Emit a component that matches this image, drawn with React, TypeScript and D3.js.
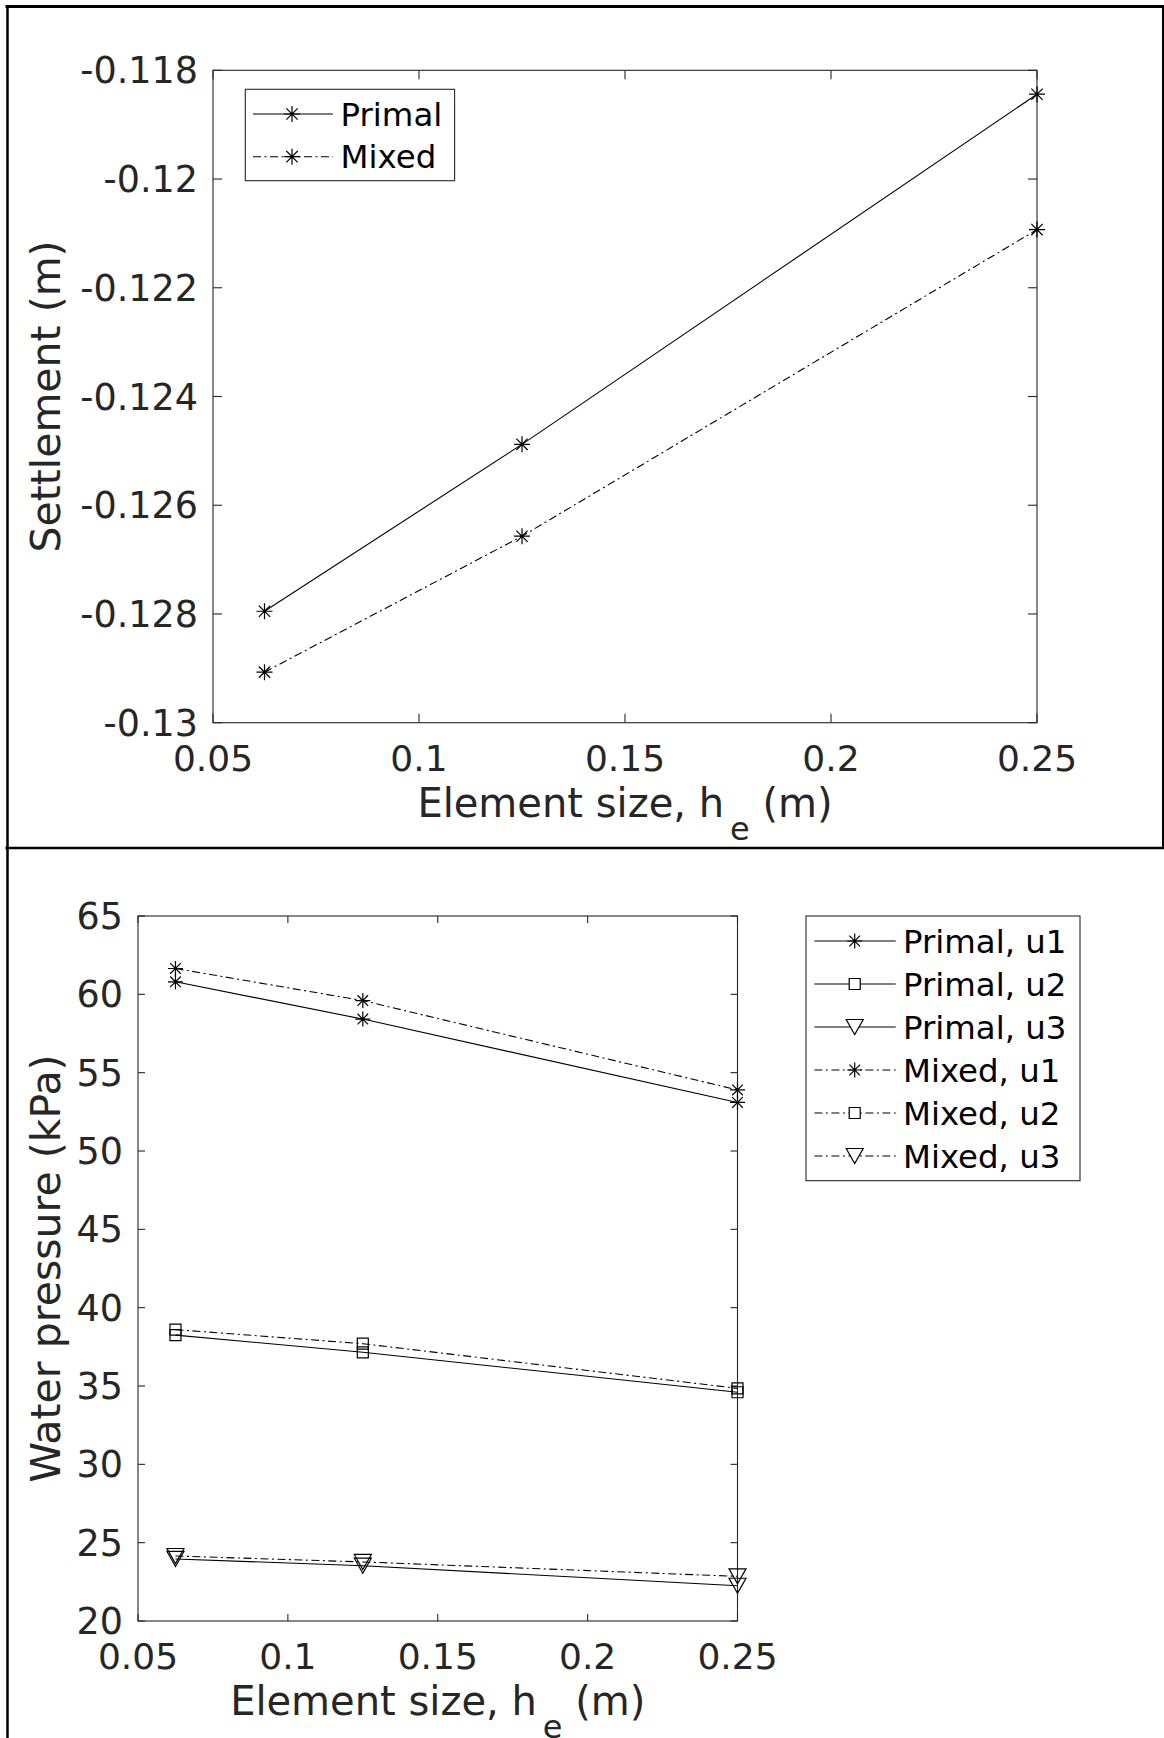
import React from "react";
import * as d3 from "d3";

// ---------- DATA ----------
const elementSizes = [0.0625, 0.125, 0.25];

const settlementPrimal = [-0.12795, -0.12488, -0.11844];
const settlementMixed = [-0.12907, -0.12657, -0.12093];
const settlementYTicks = [-0.13, -0.128, -0.126, -0.124, -0.122, -0.12, -0.118];
const settlementYLabels = ["-0.13", "-0.128", "-0.126", "-0.124", "-0.122", "-0.12", "-0.118"];

const xTicks = [0.05, 0.1, 0.15, 0.2, 0.25];
const xTickLabels = ["0.05", "0.1", "0.15", "0.2", "0.25"];

const pressurePrimalU1 = [60.8, 58.42, 53.1];
const pressurePrimalU2 = [38.25, 37.15, 34.6];
const pressurePrimalU3 = [23.96, 23.53, 22.25];
const pressureMixedU1 = [61.65, 59.6, 53.9];
const pressureMixedU2 = [38.6, 37.7, 34.85];
const pressureMixedU3 = [24.15, 23.77, 22.85];
const pressureYTicks = [20, 25, 30, 35, 40, 45, 50, 55, 60, 65];
const pressureYLabels = ["20", "25", "30", "35", "40", "45", "50", "55", "60", "65"];

const settlementSeries = [
  { name: "Primal", values: settlementPrimal, dashed: false, marker: "asterisk" },
  { name: "Mixed", values: settlementMixed, dashed: true, marker: "asterisk" },
];

const pressureSeries = [
  { name: "Primal, u1", values: pressurePrimalU1, dashed: false, marker: "asterisk" },
  { name: "Primal, u2", values: pressurePrimalU2, dashed: false, marker: "square" },
  { name: "Primal, u3", values: pressurePrimalU3, dashed: false, marker: "triangle" },
  { name: "Mixed, u1", values: pressureMixedU1, dashed: true, marker: "asterisk" },
  { name: "Mixed, u2", values: pressureMixedU2, dashed: true, marker: "square" },
  { name: "Mixed, u3", values: pressureMixedU3, dashed: true, marker: "triangle" },
];

// ---------- STYLE ----------
const FONT = "'DejaVu Sans', sans-serif";
const TEXT = "#262626";
const AXIS = "#262626";
const DASH = "8,3.5,2,3.5";

function markerPath(kind: string, size: number): string {
  if (kind === "asterisk") {
    const r = size;
    const a = r * 0.707;
    return `M${-r},0H${r}M0,${-r}V${r}M${-a},${-a}L${a},${a}M${-a},${a}L${a},${-a}`;
  }
  if (kind === "square") {
    const h = 5.5;
    return `M${-h},${-h}H${h}V${h}H${-h}Z`;
  }
  // downward triangle
  const w = 8.5;
  const h = 7.5;
  return `M${-w},${-h}L${w},${-h}L0,${h}Z`;
}

type Series = { name: string; values: number[]; dashed: boolean; marker: string };

function Panel(props: {
  left: number; right: number; top: number; bottom: number;
  yDomain: [number, number]; yTicks: number[]; yLabels: string[];
  series: Series[]; yTitle: string; tickLen: number; astSize: number;
  legend: { x0: number; x1: number; y0: number; y1: number; row0: number; rowStep: number; l0: number; l1: number; mk: number; tx: number };
}) {
  const { left, right, top, bottom, yDomain, yTicks, yLabels, series, yTitle, tickLen, astSize, legend } = props;
  const x = d3.scaleLinear().domain([0.05, 0.25]).range([left, right]);
  const y = d3.scaleLinear().domain(yDomain).range([bottom, top]);
  const line = d3.line<number>().x((_, i) => x(elementSizes[i])).y((v) => y(v));
  const cx = (left + right) / 2;
  const cy = (top + bottom) / 2;
  return (
    <g>
      {/* axes box */}
      <rect x={left} y={top} width={right - left} height={bottom - top} fill="white" stroke={AXIS} strokeWidth={1.1} />
      {/* x ticks */}
      {xTicks.map((t, i) => (
        <g key={"xt" + i}>
          <line x1={x(t)} x2={x(t)} y1={bottom} y2={bottom - tickLen} stroke={AXIS} strokeWidth={1.1} />
          <line x1={x(t)} x2={x(t)} y1={top} y2={top + tickLen} stroke={AXIS} strokeWidth={1.1} />
          <text x={x(t)} y={bottom + 48} textAnchor="middle" fontSize={36} fill={TEXT} fontFamily={FONT}>{xTickLabels[i]}</text>
        </g>
      ))}
      {/* y ticks */}
      {yTicks.map((t, i) => (
        <g key={"yt" + i}>
          <line x1={left} x2={left + tickLen} y1={y(t)} y2={y(t)} stroke={AXIS} strokeWidth={1.1} />
          <line x1={right} x2={right - tickLen} y1={y(t)} y2={y(t)} stroke={AXIS} strokeWidth={1.1} />
          <text x={left - 15} y={y(t) + 13} textAnchor="end" fontSize={36.5} fill={TEXT} fontFamily={FONT}>{yLabels[i]}</text>
        </g>
      ))}
      {/* series lines */}
      {series.map((s, i) => (
        <path key={"l" + i} d={line(s.values) || ""} fill="none" stroke="#000" strokeWidth={1.1}
          strokeDasharray={s.dashed ? DASH : undefined} />
      ))}
      {/* markers */}
      {series.map((s, i) => (
        <g key={"m" + i}>
          {s.values.map((v, j) => (
            <path key={j} transform={`translate(${x(elementSizes[j])},${y(v)})`}
              d={markerPath(s.marker, astSize)} fill="none" stroke="#000" strokeWidth={1.2} />
          ))}
        </g>
      ))}
      {/* axis titles */}
      <text x={cx} y={bottom + 94} textAnchor="middle" fontSize={40} fill={TEXT} fontFamily={FONT}>
        Element size, h
        <tspan dx={6} dy={23} fontSize={32}>e</tspan>
        <tspan dy={-23}> (m)</tspan>
      </text>
      <text transform={`translate(60,${cy}) rotate(-90)`} textAnchor="middle" fontSize={41} fill={TEXT} fontFamily={FONT}>{yTitle}</text>
      {/* legend */}
      <rect x={legend.x0} y={legend.y0} width={legend.x1 - legend.x0} height={legend.y1 - legend.y0} fill="white" stroke={AXIS} strokeWidth={1.1} />
      {series.map((s, i) => {
        const ry = legend.row0 + i * legend.rowStep;
        return (
          <g key={"lg" + i}>
            <line x1={legend.l0} x2={legend.l1} y1={ry} y2={ry} stroke="#000" strokeWidth={1.1}
              strokeDasharray={s.dashed ? DASH : undefined} />
            <path transform={`translate(${legend.mk},${ry})`} d={markerPath(s.marker, astSize)} fill="white" stroke="#000" strokeWidth={1.2} />
            <text x={legend.tx} y={ry + 11.5} fontSize={32.4} fill="#000" fontFamily={FONT}>{s.name}</text>
          </g>
        );
      })}
    </g>
  );
}

export default function App() {
  return (
    <svg width={1164} height={1738} viewBox="0 0 1164 1738"
      style={{ position: "absolute", left: 0, top: 0, background: "white" }}>
      <rect x={0} y={0} width={1164} height={1738} fill="white" />
      <Panel left={213} right={1037} top={70.3} bottom={722.7}
        yDomain={[-0.13, -0.118]} yTicks={settlementYTicks} yLabels={settlementYLabels}
        series={settlementSeries} yTitle="Settlement (m)" tickLen={9} astSize={8}
        legend={{ x0: 245.3, x1: 454.6, y0: 89.3, y1: 180.7, row0: 114, rowStep: 42.7, l0: 253, l1: 333, mk: 292, tx: 340.6 }} />
      <Panel left={138} right={737.5} top={916} bottom={1621}
        yDomain={[20, 65]} yTicks={pressureYTicks} yLabels={pressureYLabels}
        series={pressureSeries} yTitle="Water pressure (kPa)" tickLen={7} astSize={7.5}
        legend={{ x0: 806, x1: 1080, y0: 916, y1: 1180.7, row0: 941, rowStep: 43, l0: 814.4, l1: 895.7, mk: 854.7, tx: 903 }} />
      {/* panel frames */}
      <line x1={5.5} x2={1164} y1={6.5} y2={6.5} stroke="#000" strokeWidth={3} />
      <line x1={7.5} x2={7.5} y1={5} y2={1738} stroke="#000" strokeWidth={2.5} />
      <line x1={5.5} x2={1164} y1={848} y2={848} stroke="#000" strokeWidth={2.7} />
      <line x1={1163} x2={1163} y1={5} y2={849} stroke="#000" strokeWidth={2} />
    </svg>
  );
}
